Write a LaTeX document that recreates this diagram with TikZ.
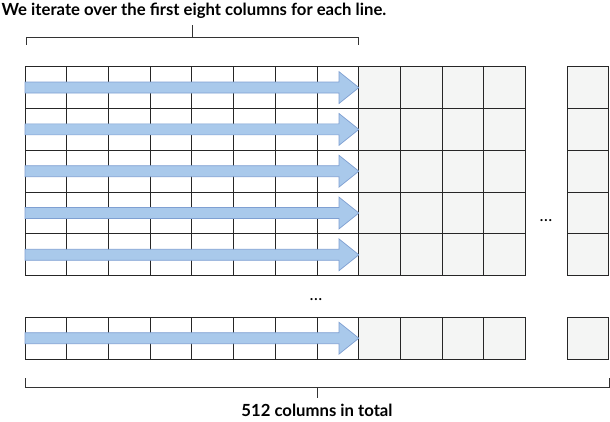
\documentclass[tikz,border=0pt]{standalone}
\usepackage{fontspec}
\setmainfont{Lato}
\definecolor{arrowfill}{HTML}{A9C9EB}
\definecolor{arrowedge}{HTML}{7FA0D2}
\definecolor{cellgray}{HTML}{F4F5F4}
\newcommand\gridrow[1]{%
  \foreach \c in {0,...,7} {
    \draw[gridline] ({25+\c*41.72},{#1}) rectangle ++(41.72,41.8);
    \draw[gridline] ({25+\c*41.72},{#1+20.9}) -- ++(41.72,0);
  }
  \foreach \c in {8,...,11} {
    \draw[graycell] ({25+\c*41.72},{#1}) rectangle ++(41.72,41.8);
  }
  \draw[graycell] (567.3,{#1}) rectangle ++(41.5,41.8);
  \draw[arrowshape] (25,{#1+15.4}) -- (339,{#1+15.4}) -- (339,{#1+5}) -- (358.8,{#1+20.9})
     -- (339,{#1+36.8}) -- (339,{#1+26.4}) -- (25,{#1+26.4}) -- cycle;
}
\begin{document}
\begin{tikzpicture}[x=1pt,y=-1pt,
  gridline/.style={draw=black!85,line width=0.9pt},
  graycell/.style={gridline,fill=cellgray},
  arrowshape/.style={fill=arrowfill,draw=arrowedge,line width=0.7pt,line join=miter},
  bracket/.style={draw=black!80,line width=0.8pt},
  caption/.style={font=\bfseries\fontsize{16.7}{20}\selectfont,inner sep=0pt},
  dots/.style={font=\fontsize{17}{20}\selectfont,inner sep=0pt}]
\useasboundingbox (0,0) rectangle (610,422);
\foreach \t in {66.7,108.5,150.3,192.1,233.9} {\gridrow{\t}}
\gridrow{317.3}
% top bracket
\coordinate (tl) at (26,45);
\coordinate (tr) at (358,45);
\coordinate (tm) at (192,37);
\draw[bracket] (tl) -- (26,37) -- (358,37) -- (tr);
\node[caption] (title) at (194,11) {We iterate over the first eight columns for each line.};
\draw[bracket] (tm) -- (192,25);
% bottom bracket
\coordinate (bl) at (25,378);
\coordinate (br) at (609,378);
\coordinate (bm) at (317.5,387);
\draw[bracket] (bl) -- (25,387) -- (609,387) -- (br);
\node[caption] (total) at (317,410) {512 columns in total};
\draw[bracket] (bm) -- (317.5,398);
% dots
\node[dots] (dotsr) at (546,221) {…};
\node[dots] (dotsd) at (316,300) {…};
\end{tikzpicture}
\end{document}
